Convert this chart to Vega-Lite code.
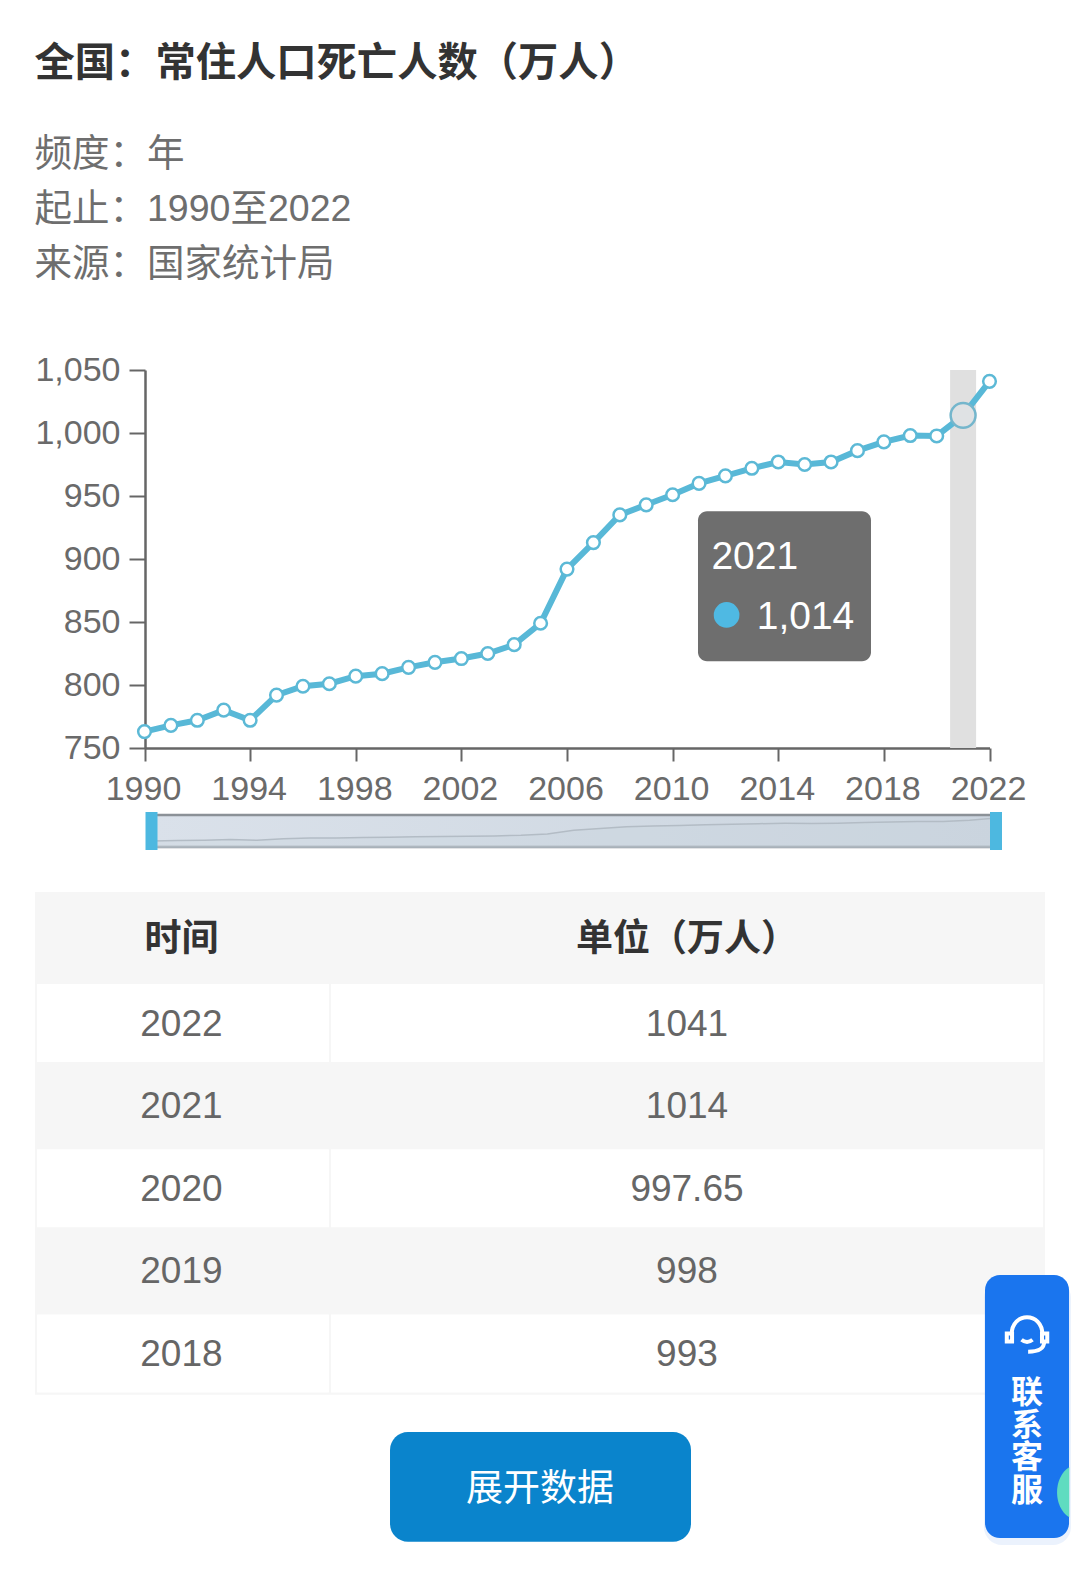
{
  "$schema": "https://vega.github.io/schema/vega-lite/v6.json",
  "description": "全国常住人口死亡人数 1990-2022",
  "padding": 0,
  "background": "#ffffff",
  "bounds": "flush",
  "spacing": 0,
  "datasets": {
    "deaths": [
      {"year": 1990, "value": 763}, {"year": 1991, "value": 768}, {"year": 1992, "value": 772},
      {"year": 1993, "value": 780}, {"year": 1994, "value": 772}, {"year": 1995, "value": 792},
      {"year": 1996, "value": 799}, {"year": 1997, "value": 801}, {"year": 1998, "value": 807},
      {"year": 1999, "value": 809}, {"year": 2000, "value": 814}, {"year": 2001, "value": 818},
      {"year": 2002, "value": 821}, {"year": 2003, "value": 825}, {"year": 2004, "value": 832},
      {"year": 2005, "value": 849}, {"year": 2006, "value": 892}, {"year": 2007, "value": 913},
      {"year": 2008, "value": 935}, {"year": 2009, "value": 943}, {"year": 2010, "value": 951},
      {"year": 2011, "value": 960}, {"year": 2012, "value": 966}, {"year": 2013, "value": 972},
      {"year": 2014, "value": 977}, {"year": 2015, "value": 975}, {"year": 2016, "value": 977},
      {"year": 2017, "value": 986}, {"year": 2018, "value": 993}, {"year": 2019, "value": 998},
      {"year": 2020, "value": 997.65}, {"year": 2021, "value": 1014}, {"year": 2022, "value": 1041}
    ],
    "meta": [
      {"item": "频度", "text": "频度：年"},
      {"item": "起止", "text": "起止：1990至2022"},
      {"item": "来源", "text": "来源：国家统计局"}
    ],
    "ui": [
      {"label": "展开数据"}
    ]
  },
  "vconcat": [
    {
      "width": 1080,
      "height": 370,
      "layer": [
        {
          "data": {"values": [{"item": "全国", "text": "全国：常住人口死亡人数（万人）"}]},
          "mark": {"type": "text", "align": "left", "baseline": "middle", "fontSize": 40.3, "fontWeight": "bold", "color": "#333333", "yOffset": -36},
          "encoding": {
            "x": {"datum": 0, "type": "quantitative", "scale": {"domain": [0, 1], "range": [34.5, 1037]}, "axis": null},
            "y": {"field": "item", "type": "nominal", "scale": {"type": "point", "padding": 0, "domain": ["全国", "频度", "起止", "来源"], "range": [100, 265]}, "axis": null},
            "text": {"field": "text"}
          }
        },
        {
          "data": {"name": "meta"},
          "mark": {"type": "text", "align": "left", "baseline": "middle", "fontSize": 37.5, "color": "#6e6e6e"},
          "encoding": {
            "x": {"datum": 0, "type": "quantitative", "scale": {"domain": [0, 1], "range": [34.5, 1037]}, "axis": null},
            "y": {"field": "item", "type": "nominal", "scale": {"type": "point", "padding": 0, "domain": ["全国", "频度", "起止", "来源"], "range": [100, 265]}, "axis": null},
            "text": {"field": "text"}
          }
        }
      ]
    },
    {
      "width": 1080,
      "height": 378,
      "data": {"name": "deaths"},
      "encoding": {
        "x": {
          "field": "year",
          "type": "quantitative",
          "scale": {"domain": [1990, 2022], "range": [144.5, 989.5], "nice": false, "zero": false, "padding": 0},
          "axis": {
            "title": null,
            "grid": false,
            "values": [1990, 1994, 1998, 2002, 2006, 2010, 2014, 2018, 2022],
            "format": "d",
            "labelFontSize": 34,
            "labelColor": "#6a6a6a",
            "labelPadding": 11,
            "labelOffset": -1.5,
            "labelFlush": false,
            "labelOverlap": false,
            "tickSize": 13,
            "tickWidth": 2,
            "tickColor": "#666666",
            "domainColor": "#666666",
            "domainWidth": 2.5
          }
        },
        "y": {
          "field": "value",
          "type": "quantitative",
          "scale": {"domain": [750, 1050], "nice": false, "zero": false},
          "axis": {
            "title": null,
            "grid": false,
            "offset": -145,
            "values": [750, 800, 850, 900, 950, 1000, 1050],
            "format": ",d",
            "labelFontSize": 34,
            "labelColor": "#6a6a6a",
            "labelPadding": 9,
            "tickSize": 16,
            "tickWidth": 2,
            "tickColor": "#666666",
            "domainColor": "#666666",
            "domainWidth": 2.5
          }
        }
      },
      "layer": [
        {
          "transform": [{"filter": "datum.year === 2021"}],
          "mark": {"type": "bar", "orient": "vertical", "size": 26, "color": "#e0e0e0"},
          "encoding": {"y": {"datum": 1050, "type": "quantitative"}, "y2": {"datum": 750}}
        },
        {"mark": {"type": "line", "color": "#58b8d7", "strokeWidth": 6}},
        {
          "transform": [{"filter": "datum.year !== 2021"}],
          "mark": {"type": "point", "shape": "circle", "filled": true, "fill": "#ffffff", "stroke": "#5cb9d6", "strokeWidth": 2.5, "size": 160, "opacity": 1}
        },
        {
          "transform": [{"filter": "datum.year === 2021"}],
          "mark": {"type": "point", "shape": "circle", "filled": true, "fill": "#dfe2e4", "stroke": "#74b6cc", "strokeWidth": 2.5, "size": 620, "opacity": 1}
        },
        {
          "transform": [{"filter": "datum.year === 2021"}],
          "mark": {"type": "rect", "width": 173, "height": 150, "xOffset": -178.6, "yOffset": 170.8, "color": "#6e6e6e", "cornerRadius": 9}
        },
        {
          "transform": [{"filter": "datum.year === 2021"}],
          "mark": {"type": "text", "align": "left", "baseline": "middle", "fontSize": 39, "color": "#ffffff", "dx": -251.7, "dy": 142},
          "encoding": {"text": {"field": "year", "type": "nominal"}}
        },
        {
          "transform": [{"filter": "datum.year === 2021"}],
          "mark": {"type": "point", "shape": "circle", "filled": true, "color": "#4fb9e3", "size": 660, "opacity": 1, "xOffset": -236.5, "yOffset": 199.6}
        },
        {
          "transform": [{"filter": "datum.year === 2021"}],
          "mark": {"type": "text", "align": "left", "baseline": "middle", "fontSize": 39, "color": "#ffffff", "dx": -206.4, "dy": 202},
          "encoding": {"text": {"field": "value", "type": "quantitative", "format": ","}}
        }
      ]
    },
    {
      "width": 1080,
      "height": 144,
      "layer": [
        {
          "data": {"values": [{"start": 1990, "end": 2022}]},
          "mark": {
            "type": "rect",
            "color": {"gradient": "linear", "x1": 0, "y1": 0, "x2": 1, "y2": 0, "stops": [{"offset": 0, "color": "#dae1ea"}, {"offset": 1, "color": "#cbd5df"}]},
            "stroke": "#8b9197",
            "strokeWidth": 2.5
          },
          "encoding": {
            "x": {"field": "start", "type": "quantitative", "scale": {"domain": [1990, 2022], "range": [151.5, 996], "nice": false, "zero": false, "padding": 0}, "axis": null},
            "x2": {"field": "end"},
            "y": {"datum": 691, "type": "quantitative", "scale": {"domain": [691, 1077], "range": [99, 67], "nice": false, "zero": false, "padding": 0}, "axis": null},
            "y2": {"datum": 1077}
          }
        },
        {
          "data": {"name": "deaths"},
          "mark": {"type": "area", "color": "#c9d3dd", "fillOpacity": 0.35, "stroke": "#b3bcc5", "strokeWidth": 1.5},
          "encoding": {
            "x": {"field": "year", "type": "quantitative", "axis": null},
            "y": {"field": "value", "type": "quantitative", "axis": null},
            "y2": {"datum": 691}
          }
        },
        {
          "data": {"values": [{"year": 1990}, {"year": 2022}]},
          "mark": {"type": "rect", "width": 12, "height": 38, "color": "#4db8e0"},
          "encoding": {
            "x": {"field": "year", "type": "quantitative", "axis": null},
            "y": {"datum": 884, "type": "quantitative", "axis": null}
          }
        }
      ]
    },
    {
      "width": 1080,
      "height": 688,
      "layer": [
        {
          "data": {"values": [{"table": "bg"}]},
          "mark": {"type": "rect", "color": "#f6f6f6"},
          "encoding": {
            "x": {"datum": 0, "type": "quantitative", "scale": {"domain": [0, 1], "range": [35, 1045], "nice": false, "zero": false, "padding": 0}, "axis": null},
            "x2": {"datum": 1},
            "y": {"datum": 2023.586, "type": "quantitative", "scale": {"domain": [2015.257, 2023.586], "nice": false, "zero": false, "padding": 0}, "axis": null},
            "y2": {"datum": 2017.5}
          }
        },
        {
          "data": {"name": "deaths"},
          "transform": [{"filter": "datum.year === 2022 || datum.year === 2020 || datum.year === 2018"}],
          "mark": {"type": "bar", "orient": "horizontal", "size": 78, "color": "#ffffff"},
          "encoding": {
            "x": {"datum": 0.002, "type": "quantitative", "axis": null},
            "x2": {"datum": 0.291},
            "y": {"field": "year", "type": "quantitative", "axis": null}
          }
        },
        {
          "data": {"name": "deaths"},
          "transform": [{"filter": "datum.year === 2022 || datum.year === 2020 || datum.year === 2018"}],
          "mark": {"type": "bar", "orient": "horizontal", "size": 78, "color": "#ffffff"},
          "encoding": {
            "x": {"datum": 0.293, "type": "quantitative", "axis": null},
            "x2": {"datum": 0.998},
            "y": {"field": "year", "type": "quantitative", "axis": null}
          }
        },
        {
          "data": {"values": [{"head": "时间", "col": 0.145}, {"head": "单位（万人）", "col": 0.6455}]},
          "mark": {"type": "text", "baseline": "middle", "fontSize": 37, "fontWeight": "bold", "color": "#333333"},
          "encoding": {
            "x": {"field": "col", "type": "quantitative", "axis": null},
            "y": {"datum": 2023.0, "type": "quantitative", "axis": null},
            "text": {"field": "head"}
          }
        },
        {
          "data": {"name": "deaths"},
          "transform": [{"filter": "datum.year >= 2018"}],
          "mark": {"type": "text", "baseline": "middle", "fontSize": 37, "color": "#666666", "yOffset": 1.5},
          "encoding": {
            "x": {"datum": 0.145, "type": "quantitative", "axis": null},
            "y": {"field": "year", "type": "quantitative", "axis": null},
            "text": {"field": "year", "type": "nominal"}
          }
        },
        {
          "data": {"name": "deaths"},
          "transform": [{"filter": "datum.year >= 2018"}],
          "mark": {"type": "text", "baseline": "middle", "fontSize": 37, "color": "#666666", "yOffset": 1.5},
          "encoding": {
            "x": {"datum": 0.6455, "type": "quantitative", "axis": null},
            "y": {"field": "year", "type": "quantitative", "axis": null},
            "text": {"field": "value", "type": "nominal"}
          }
        },
        {
          "data": {"name": "ui"},
          "mark": {"type": "rect", "color": "#0a84cc", "cornerRadius": 18},
          "encoding": {
            "x": {"datum": 0.3515, "type": "quantitative", "axis": null},
            "x2": {"datum": 0.6495},
            "y": {"datum": 2017.05, "type": "quantitative", "axis": null},
            "y2": {"datum": 2015.72}
          }
        },
        {
          "data": {"name": "ui"},
          "mark": {"type": "text", "baseline": "middle", "fontSize": 37, "color": "#ffffff"},
          "encoding": {
            "x": {"datum": 0.5, "type": "quantitative", "axis": null},
            "y": {"datum": 2016.345, "type": "quantitative", "axis": null},
            "text": {"field": "label"}
          }
        },
        {
          "data": {"name": "ui"},
          "mark": {"type": "rect", "color": "#3a7cf0", "opacity": 0.1, "cornerRadius": 18},
          "encoding": {
            "x": {"datum": 0.9396, "type": "quantitative", "axis": null},
            "x2": {"datum": 1.0257},
            "y": {"datum": 2018.89, "type": "quantitative", "axis": null},
            "y2": {"datum": 2015.68}
          }
        },
        {
          "data": {"name": "ui"},
          "mark": {"type": "rect", "color": "#1a75ee", "cornerRadius": 15},
          "encoding": {
            "x": {"datum": 0.9406, "type": "quantitative", "axis": null},
            "x2": {"datum": 1.0238},
            "y": {"datum": 2018.95, "type": "quantitative", "axis": null},
            "y2": {"datum": 2015.765}
          }
        },
        {
          "data": {"name": "ui"},
          "mark": {"type": "point", "shape": "M0.25,-1 C-0.4,-0.6 -0.4,0.6 0.25,1 Z", "filled": true, "color": "#5fdcc0", "size": 2500, "opacity": 1},
          "encoding": {
            "x": {"datum": 1.0178, "type": "quantitative", "axis": null},
            "y": {"datum": 2016.32, "type": "quantitative", "axis": null}
          }
        },
        {
          "data": {"name": "ui"},
          "mark": {
            "type": "point",
            "shape": "M-0.7,0.05 C-0.7,-1 0.7,-1 0.7,0.05 M-0.92,0 h0.24 v0.36 h-0.24 z M0.68,0 h0.24 v0.36 h-0.24 z M0.78,0.36 C0.78,0.72 0.5,0.82 0.05,0.82 M-0.25,0.28 Q0,0.48 0.25,0.28",
            "filled": false,
            "stroke": "#ffffff",
            "strokeWidth": 4,
            "size": 1936,
            "opacity": 1
          },
          "encoding": {
            "x": {"datum": 0.9822, "type": "quantitative", "axis": null},
            "y": {"datum": 2018.24, "type": "quantitative", "axis": null}
          }
        },
        {
          "data": {"values": [{"label": "联\n系\n客\n服"}]},
          "mark": {"type": "text", "baseline": "middle", "fontSize": 32, "fontWeight": "bold", "lineHeight": 32.5, "lineBreak": "\n", "color": "#ffffff"},
          "encoding": {
            "x": {"datum": 0.9822, "type": "quantitative", "axis": null},
            "y": {"datum": 2017.52, "type": "quantitative", "axis": null},
            "text": {"field": "label"}
          }
        }
      ]
    }
  ],
  "config": {
    "view": {"stroke": null},
    "font": "Liberation Sans, Noto Sans CJK SC",
    "text": {"font": "Liberation Sans, Noto Sans CJK SC"},
    "axis": {"labelFont": "Liberation Sans, Noto Sans CJK SC"}
  }
}
